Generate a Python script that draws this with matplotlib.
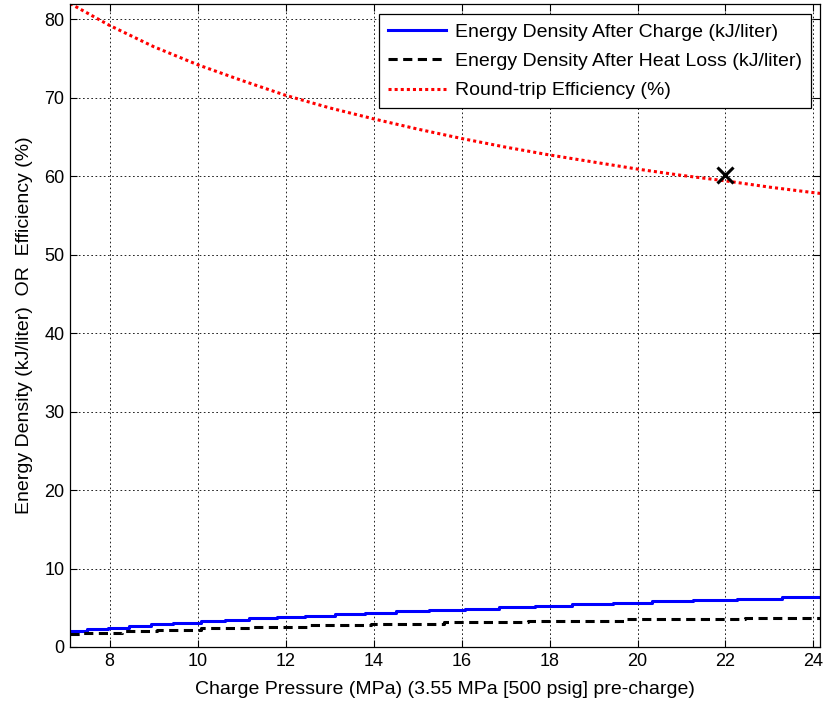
import matplotlib
matplotlib.use('Agg')
import matplotlib.pyplot as plt

plt.rcParams['font.family'] = ['Liberation Sans', 'DejaVu Sans']

# Energy density after charge (kJ/liter), stepped
charge_p = [7.1, 7.48, 7.95, 8.44, 8.95, 9.45, 10.07, 10.63, 11.17, 11.80, 12.44,
            13.12, 13.81, 14.51, 15.27, 16.07, 16.84, 17.68, 18.50, 19.45, 20.33,
            21.27, 22.26, 23.28, 24.15]
charge_e = [2.02, 2.25, 2.47, 2.68, 2.88, 3.07, 3.27, 3.46, 3.64, 3.82, 4.00,
            4.18, 4.36, 4.54, 4.72, 4.90, 5.08, 5.26, 5.44, 5.62, 5.80,
            5.98, 6.16, 6.36, 6.36]

# Energy density after heat loss (kJ/liter), stepped
loss_p = [7.1, 7.34, 8.29, 9.08, 10.07, 11.25, 12.5, 13.94, 15.61, 17.51, 19.75, 22.45, 24.15]
loss_e = [1.60, 1.82, 2.02, 2.22, 2.42, 2.60, 2.78, 2.96, 3.14, 3.32, 3.52, 3.72, 3.72]

# Round-trip efficiency (%)
eff_p = [7.1, 8, 9, 10, 11, 12, 13, 14, 15, 16, 17, 18, 19, 20, 21, 22, 23, 24, 24.15]
eff_v = [82.0, 79.2, 76.5, 74.2, 72.2, 70.3, 68.7, 67.3, 66.0, 64.8, 63.7, 62.7,
         61.8, 60.9, 60.1, 59.4, 58.6, 57.9, 57.8]

# marked operating point
mark_p, mark_v = 22.0, 60.2

fs_tick = 13
fs = 14

fig = plt.figure(figsize=(8.25, 7.04), dpi=100)
ax = fig.add_axes([0.085, 0.081, 0.909, 0.914])

ax.plot(charge_p, charge_e, color='#0000ff', lw=2.2, drawstyle='steps-post',
        label='Energy Density After Charge (kJ/liter)')
ax.plot(loss_p, loss_e, color='black', lw=2.2, ls=(0, (3, 1.8)), drawstyle='steps-post',
        label='Energy Density After Heat Loss (kJ/liter)')
ax.plot(eff_p, eff_v, color='#ff0000', lw=2.2, ls=(0, (1, 1)),
        label='Round-trip Efficiency (%)')
ax.plot([mark_p], [mark_v], marker='x', color='black', ms=11, mew=2.2, ls='none')

ax.set_xlim(7.1, 24.15)
ax.set_ylim(0, 82)
ax.set_xticks(range(8, 25, 2))
ax.set_yticks(range(0, 81, 10))
ax.grid(True, color='black', ls=(0, (2, 3)), lw=0.6)
ax.tick_params(direction='in', top=True, right=True, labelsize=fs_tick, length=5, pad=4)
for s in ax.spines.values():
    s.set_linewidth(0.9)

ax.set_xlabel('Charge Pressure (MPa) (3.55 MPa [500 psig] pre-charge)', fontsize=fs, labelpad=8)
ax.set_ylabel('Energy Density (kJ/liter)  OR  Efficiency (%)', fontsize=fs, labelpad=8)

leg = ax.legend(loc='upper right', bbox_to_anchor=(0.993, 0.989), fontsize=fs,
                handlelength=3.0, handletextpad=0.45, fancybox=False, framealpha=1,
                borderpad=0.45, labelspacing=0.6, borderaxespad=0.2)
leg.get_frame().set_edgecolor('black')
leg.get_frame().set_linewidth(0.9)

fig.savefig('out.png', dpi=100)
